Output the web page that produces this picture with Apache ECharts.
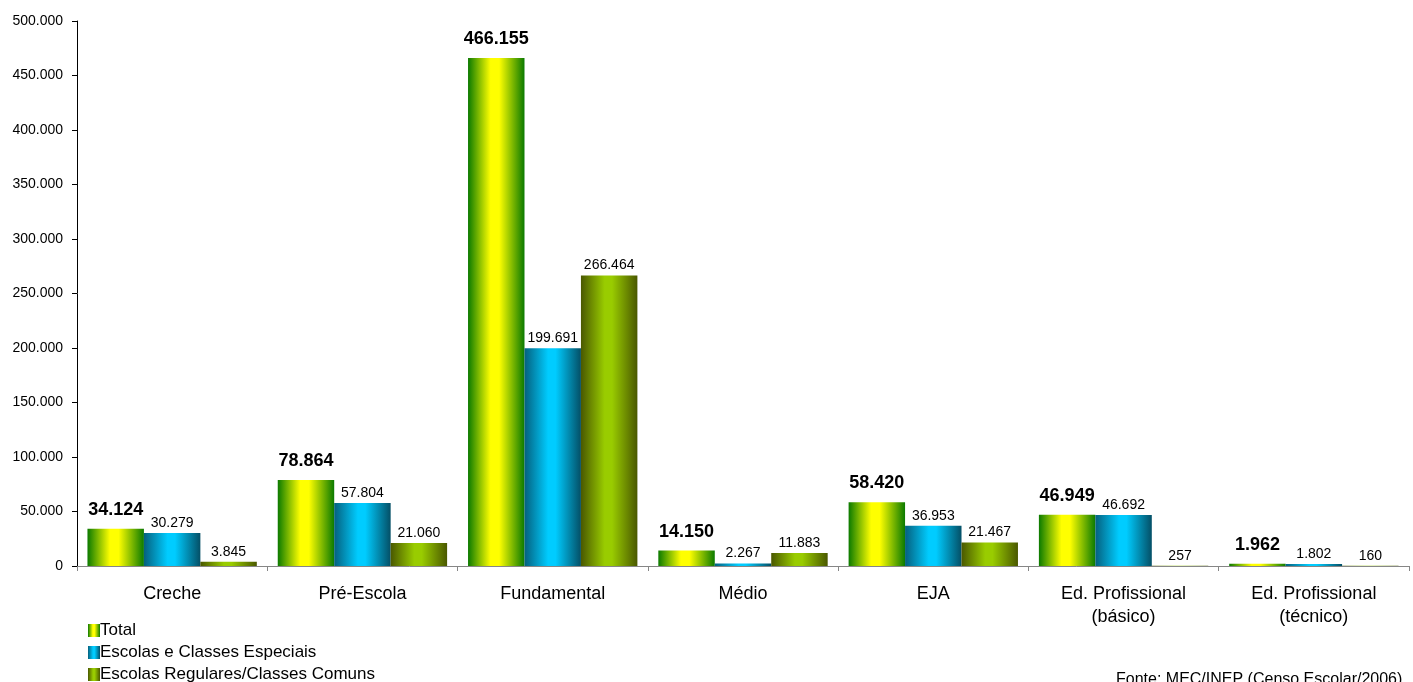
<!DOCTYPE html>
<html>
<head>
<meta charset="utf-8">
<script src="https://cdn.jsdelivr.net/npm/echarts@6/dist/echarts.min.js"></script>
<style>
html,body{margin:0;padding:0;background:#fff;}
#c{width:1413px;height:682px;}
</style>
</head>
<body>
<div id="c"></div>
<script>
const categories = ['Creche', 'Pré-Escola', 'Fundamental', 'Médio', 'EJA', 'Ed. Profissional\n(básico)', 'Ed. Profissional\n(técnico)'];
const seriesNames = ['Total', 'Escolas e Classes Especiais', 'Escolas Regulares/Classes Comuns'];
const totalValues = [34124, 78864, 466155, 14150, 58420, 46949, 1962];
const especiaisValues = [30279, 57804, 199691, 2267, 36953, 46692, 1802];
const regularesValues = [3845, 21060, 266464, 11883, 21467, 257, 160];
const yTicks = [0, 50000, 100000, 150000, 200000, 250000, 300000, 350000, 400000, 450000, 500000];
const sourceNote = 'Fonte: MEC/INEP (Censo Escolar/2006)';

function fmt(v) {
  return String(v).replace(/\B(?=(\d{3})+(?!\d))/g, '.');
}
function grad(edgeL, mid, edgeR, a, b) {
  return new echarts.graphic.LinearGradient(0, 0, 1, 0, [
    {offset: 0, color: edgeL},
    {offset: a, color: mid},
    {offset: b, color: mid},
    {offset: 1, color: edgeR}
  ]);
}
const FONT = '"Liberation Sans", Arial, sans-serif';
const chart = echarts.init(document.getElementById('c'), null, {renderer: 'canvas'});
const smallLabel = {
  show: true, position: 'top', distance: 3,
  fontFamily: FONT, fontSize: 14, color: '#000',
  formatter: p => fmt(p.value)
};
chart.setOption({
  animation: false,
  backgroundColor: '#fff',
  textStyle: {fontFamily: FONT},
  grid: {left: 77, right: 4, top: 21, bottom: 116, containLabel: false},
  legend: {
    orient: 'vertical', left: 83, top: 617, height: 80,
    icon: 'rect',
    itemWidth: 12, itemHeight: 13, itemGap: 5,
    textStyle: {fontFamily: FONT, fontSize: 17, color: '#000', lineHeight: 17, padding: [0, 0, 0, -5]},
    data: seriesNames
  },
  xAxis: {
    type: 'category',
    data: categories,
    axisLine: {show: true, lineStyle: {color: '#868686', width: 1}},
    axisTick: {show: true, length: 5, lineStyle: {color: '#868686'}},
    axisLabel: {interval: 0, fontFamily: FONT, fontSize: 18, color: '#000', margin: 17, lineHeight: 23}
  },
  yAxis: {
    type: 'value',
    min: yTicks[0], max: yTicks[yTicks.length - 1], interval: yTicks[1] - yTicks[0],
    splitLine: {show: false},
    axisLine: {show: true, lineStyle: {color: '#000', width: 1}},
    axisTick: {show: true, length: 5, lineStyle: {color: '#000'}},
    axisLabel: {fontFamily: FONT, fontSize: 14, color: '#000', margin: 14, formatter: v => fmt(v)}
  },
  series: [
    {
      name: seriesNames[0], type: 'bar', data: totalValues,
      barGap: '0%', barCategoryGap: '11%',
      itemStyle: {color: grad('#0b7a00', '#ffff00', '#0b7a00', 0.4, 0.55)},
      label: {show: true, position: 'top', distance: 10, fontFamily: FONT, fontSize: 18, fontWeight: 'bold', color: '#000', formatter: p => fmt(p.value)}
    },
    {
      name: seriesNames[1], type: 'bar', data: especiaisValues,
      barGap: '0%', barCategoryGap: '11%',
      itemStyle: {color: grad('#05607e', '#00ccff', '#044f66', 0.42, 0.55)},
      label: smallLabel
    },
    {
      name: seriesNames[2], type: 'bar', data: regularesValues,
      barGap: '0%', barCategoryGap: '11%',
      itemStyle: {color: grad('#4a5800', '#99cc00', '#4a5800', 0.42, 0.55)},
      label: smallLabel
    }
  ],
  graphic: [{
    type: 'text', left: 1116, top: 672,
    style: {text: sourceNote, fontFamily: FONT, fontSize: 16, fill: '#000'}
  }]
});
</script>
</body>
</html>
